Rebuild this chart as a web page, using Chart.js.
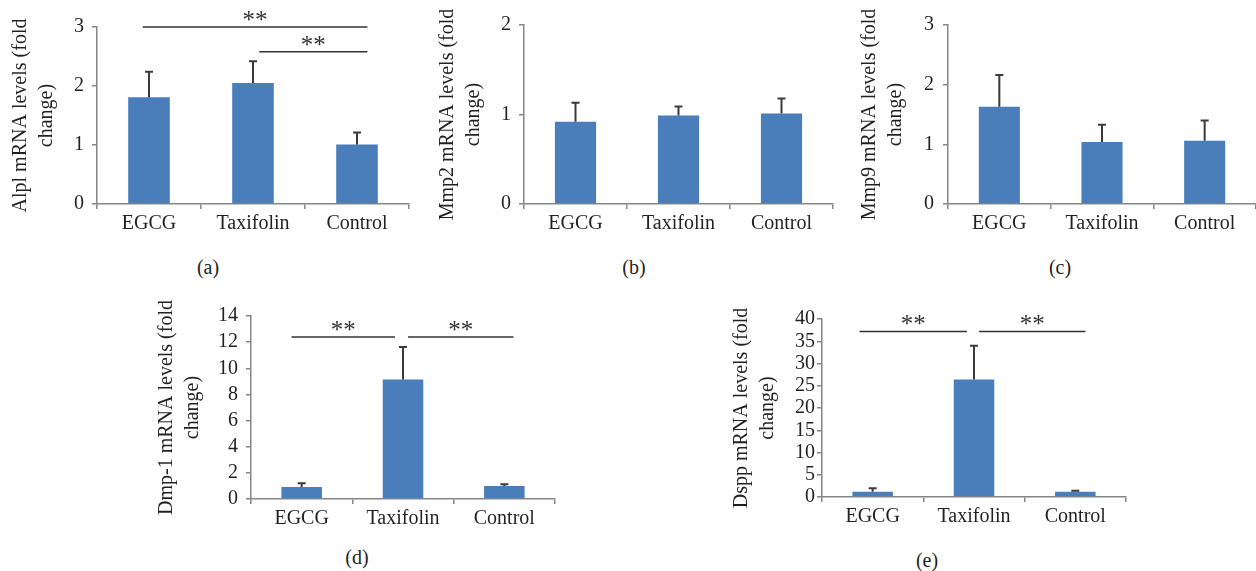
<!DOCTYPE html>
<html>
<head>
<meta charset="utf-8">
<script src="https://cdn.jsdelivr.net/npm/chart.js@4.4.1/dist/chart.umd.min.js"></script>
<style>
  html, body { margin: 0; padding: 0; background: #fff; }
  #page { position: relative; width: 1256px; height: 571px; overflow: hidden; font-family: "Liberation Serif", "Times New Roman", serif; color: #231f20; }
  .panel { position: absolute; }
  .cap { position: absolute; font-size: 20px; transform: translate(-50%, -50%); white-space: nowrap; }
</style>
</head>
<body>
<div id="page">
  <div class="panel" style="left:0px;top:0px;width:420px;height:250px"><canvas id="ca"></canvas></div>
  <div class="panel" style="left:427px;top:0px;width:420px;height:250px"><canvas id="cb"></canvas></div>
  <div class="panel" style="left:851px;top:0px;width:405px;height:250px"><canvas id="cc"></canvas></div>
  <div class="panel" style="left:154px;top:290px;width:420px;height:255px"><canvas id="cd"></canvas></div>
  <div class="panel" style="left:725px;top:290px;width:420px;height:253px"><canvas id="ce"></canvas></div>
  <div class="cap" style="left:208px;top:267px">(a)</div>
  <div class="cap" style="left:634px;top:267px">(b)</div>
  <div class="cap" style="left:1060px;top:267px">(c)</div>
  <div class="cap" style="left:357px;top:557px">(d)</div>
  <div class="cap" style="left:927px;top:560px">(e)</div>
</div>
<script>
// ── Data ──────────────────────────────────────────────────────
const categories = ["EGCG", "Taxifolin", "Control"];

const alplMean = [1.81, 2.05, 1.01];
const alplSd   = [0.43, 0.37, 0.20];
const mmp2Mean = [0.92, 0.99, 1.01];
const mmp2Sd   = [0.21, 0.10, 0.17];
const mmp9Mean = [1.63, 1.04, 1.06];
const mmp9Sd   = [0.53, 0.29, 0.34];
const dmp1Mean = [0.92, 9.14, 0.99];
const dmp1Sd   = [0.28, 2.49, 0.13];
const dsppMean = [1.2, 26.4, 1.2];
const dsppSd   = [0.75, 7.6, 0.22];

const alplTicks = [0, 1, 2, 3];
const mmp2Ticks = [0, 1, 2];
const mmp9Ticks = [0, 1, 2, 3];
const dmp1Ticks = [0, 2, 4, 6, 8, 10, 12, 14];
const dsppTicks = [0, 5, 10, 15, 20, 25, 30, 35, 40];

// significance brackets: [from category, to category, y value]
const alplSig = [[-0.06, 2.10, 3.0], [1.06, 2.10, 2.58]];
const dmp1Sig = [[-0.10, 0.92, 12.4], [1.05, 2.09, 12.4]];
const dsppSig = [[-0.13, 0.93, 37.2], [1.05, 2.10, 37.2]];

const FONT = "'Liberation Serif', 'Times New Roman', serif";
const INK = "#231f20";
const AXIS = "#868686";
const BAR = "#4a7ebb";

// ── Error bars + "**" brackets ────────────────────────────────
const extras = {
  id: "extras",
  afterDraw(chart, args, o) {
    const { ctx, scales: { x, y } } = chart;
    const meta = chart.getDatasetMeta(0);
    ctx.save();
    ctx.strokeStyle = "#3a3a3a";
    ctx.lineWidth = 2;
    meta.data.forEach((bar, i) => {
      const top = y.getPixelForValue(o.mean[i] + o.sd[i]);
      ctx.beginPath();
      ctx.moveTo(bar.x, bar.y);
      ctx.lineTo(bar.x, top);
      ctx.moveTo(bar.x - 4, top);
      ctx.lineTo(bar.x + 4, top);
      ctx.stroke();
    });
    ctx.strokeStyle = "#333";
    ctx.lineWidth = 1.5;
    ctx.fillStyle = "#333";
    ctx.font = `25px ${FONT}`;
    ctx.textAlign = "center";
    ctx.textBaseline = "alphabetic";
    (o.sig || []).forEach(([a, b, v]) => {
      const x0 = x.getPixelForValue(a), x1 = x.getPixelForValue(b), yy = y.getPixelForValue(v);
      ctx.beginPath();
      ctx.moveTo(x0, yy);
      ctx.lineTo(x1, yy);
      ctx.stroke();
      ctx.fillText("**", (x0 + x1) / 2, yy + 1);
    });
    ctx.restore();
  },
};

// ── Panel builder ─────────────────────────────────────────────
function panel(id, { mean, sd, ticks, title, sig, pad, titlePad, tickPad }) {
  const yMax = ticks[ticks.length - 1];
  return new Chart(document.getElementById(id), {
    type: "bar",
    data: { labels: categories, datasets: [{ data: mean, backgroundColor: BAR, barPercentage: 0.4, categoryPercentage: 1 }] },
    plugins: [extras],
    options: {
      responsive: true, maintainAspectRatio: false, animation: false,
      layout: { padding: pad },
      plugins: { legend: { display: false }, tooltip: { enabled: false }, extras: { mean, sd, sig } },
      scales: {
        x: {
          z: 1,
          grid: { display: true, drawOnChartArea: false, drawTicks: true, tickLength: 5, color: AXIS, lineWidth: 1.5 },
          border: { display: true, color: AXIS, width: 1.5 },
          ticks: { color: INK, padding: 3, font: { family: FONT, size: 20 } },
          afterFit: s => { s.height = 46; },
        },
        y: {
          min: 0, max: yMax,
          afterBuildTicks: s => { s.ticks = ticks.map(v => ({ value: v })); },
          grid: { display: true, drawOnChartArea: false, drawTicks: true, tickLength: 5, color: AXIS, lineWidth: 1.5 },
          border: { display: true, color: AXIS, width: 1.5 },
          ticks: { color: INK, padding: tickPad, autoSkip: false, font: { family: FONT, size: 20 } },
          title: { display: true, text: title, color: INK, padding: { top: titlePad, bottom: 0 }, font: { family: FONT, size: 20, lineHeight: 1.3 } },
          afterFit: s => { s.width = 97; },
        },
      },
    },
  });
}

panel("ca", { mean: alplMean, sd: alplSd, ticks: alplTicks, sig: alplSig, title: ["Alpl mRNA levels (fold", "change)"],
  pad: { top: 27, right: 11, left: 0, bottom: 0 }, titlePad: 8, tickPad: 8 });
panel("cb", { mean: mmp2Mean, sd: mmp2Sd, ticks: mmp2Ticks, title: ["Mmp2 mRNA levels (fold", "change)"],
  pad: { top: 25, right: 14, left: 0, bottom: 0 }, titlePad: 8, tickPad: 8 });
panel("cc", { mean: mmp9Mean, sd: mmp9Sd, ticks: mmp9Ticks, title: ["Mmp9 mRNA levels (fold", "change)"],
  pad: { top: 25, right: 0, left: 0, bottom: 0 }, titlePad: 6, tickPad: 9 });
panel("cd", { mean: dmp1Mean, sd: dmp1Sd, ticks: dmp1Ticks, sig: dmp1Sig, title: ["Dmp-1 mRNA levels (fold", "change)"],
  pad: { top: 26, right: 19, left: 0, bottom: 0 }, titlePad: 0, tickPad: 8 });
panel("ce", { mean: dsppMean, sd: dsppSd, ticks: dsppTicks, sig: dsppSig, title: ["Dspp mRNA levels (fold", "change)"],
  pad: { top: 29, right: 19, left: 0, bottom: 0 }, titlePad: 4, tickPad: 2 });
</script>
</body>
</html>
